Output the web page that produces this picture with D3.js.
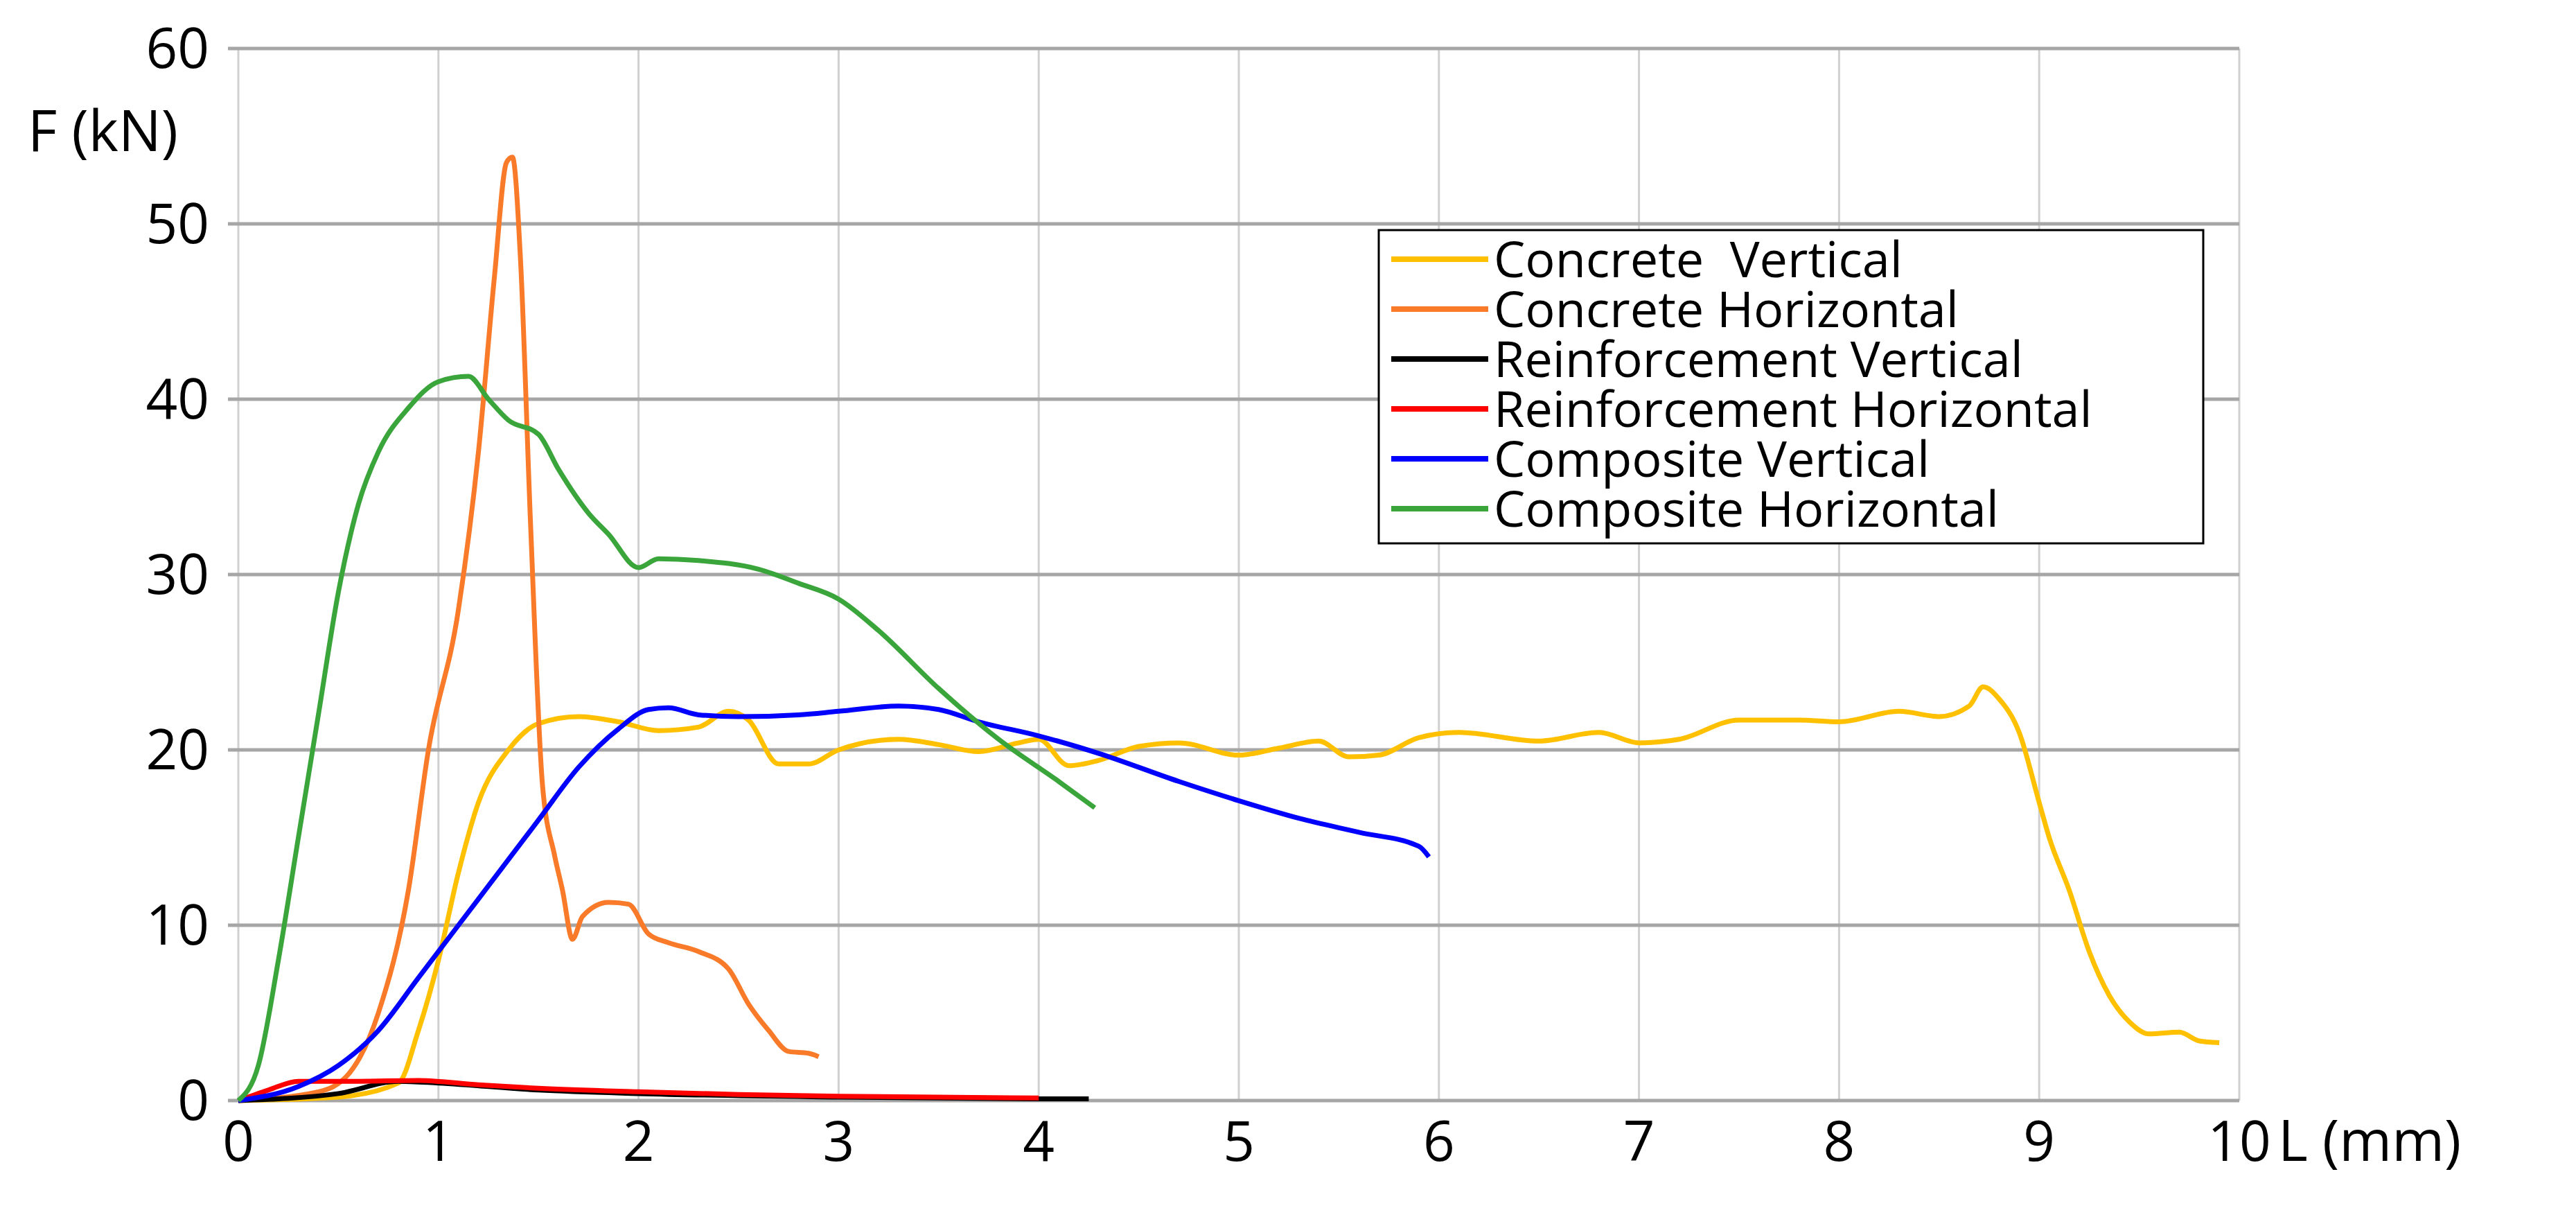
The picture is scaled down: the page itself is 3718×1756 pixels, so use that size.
<!DOCTYPE html>
<html><head><meta charset="utf-8">
<script src="https://cdn.jsdelivr.net/npm/d3@7"></script>
<style>body{margin:0;background:#fff}text{font-family:"Open Sans",sans-serif}</style>
</head><body><svg width="3718" height="1756"></svg>
<script>
// DATA
var seriesNames = ['Concrete  Vertical','Concrete Horizontal','Reinforcement Vertical','Reinforcement Horizontal','Composite Vertical','Composite Horizontal'];
var seriesColors = ['#ffc000','#f97b2a','#000000','#ff0000','#0000ff','#3aa53a'];
var concreteV = [[0,0],[0.5,0.2],[0.8,1],[0.9,4],[1.0,8],[1.1,13],[1.2,17],[1.35,20],[1.5,21.5],[1.7,21.9],[1.9,21.6],[2.1,21.1],[2.3,21.3],[2.45,22.2],[2.55,21.7],[2.7,19.2],[2.85,19.2],[3.0,20],[3.3,20.6],[3.5,20.3],[3.7,19.9],[3.9,20.4],[4.0,20.6],[4.15,19.1],[4.3,19.4],[4.5,20.2],[4.7,20.4],[5.0,19.7],[5.2,20.1],[5.4,20.5],[5.55,19.6],[5.7,19.7],[5.9,20.7],[6.1,21.0],[6.5,20.5],[6.8,21.0],[7.0,20.4],[7.2,20.6],[7.5,21.7],[7.8,21.7],[8.0,21.6],[8.3,22.2],[8.5,21.9],[8.65,22.5],[8.72,23.6],[8.8,22.9],[8.9,21],[9.0,17],[9.05,15],[9.15,12],[9.25,8.5],[9.35,6],[9.45,4.5],[9.55,3.8],[9.7,3.9],[9.8,3.4],[9.9,3.3]];
var concreteH = [[0,0],[0.4,0.5],[0.55,1.5],[0.7,5],[0.85,12],[0.95,20],[1.1,28],[1.2,37],[1.28,47],[1.34,53.5],[1.37,53.8],[1.41,48],[1.46,33],[1.52,18],[1.58,14],[1.62,12],[1.67,9.2],[1.72,10.5],[1.85,11.3],[1.95,11.2],[2.05,9.5],[2.15,9],[2.3,8.5],[2.45,7.5],[2.55,5.5],[2.65,4],[2.75,2.8],[2.85,2.7],[2.9,2.5]];
var reinfV = [[0,0],[0.5,0.4],[0.8,1.1],[1.0,1.0],[1.5,0.6],[2,0.4],[3,0.2],[4,0.1],[4.25,0.1]];
var reinfH = [[0,0],[0.15,0.6],[0.3,1.1],[0.6,1.1],[0.9,1.15],[1.2,0.9],[1.5,0.7],[2,0.5],[2.5,0.35],[3,0.25],[4,0.15]];
var compV = [[0,0],[0.3,0.8],[0.5,2],[0.7,4],[0.9,7],[1.1,10],[1.3,13],[1.5,16],[1.7,19],[1.9,21.2],[2.05,22.3],[2.15,22.4],[2.3,22],[2.5,21.9],[2.8,22.0],[3.0,22.2],[3.3,22.5],[3.5,22.3],[3.7,21.6],[4.0,20.8],[4.3,19.8],[4.7,18.2],[5.0,17.1],[5.3,16.1],[5.6,15.3],[5.9,14.5],[5.95,13.9]];
var compH = [[0,0],[0.1,2],[0.2,8],[0.3,15],[0.4,22],[0.5,29],[0.6,34],[0.7,37],[0.85,39.5],[1.0,41],[1.15,41.3],[1.25,40],[1.35,38.8],[1.5,38],[1.6,36],[1.75,33.5],[1.85,32.3],[2.0,30.4],[2.1,30.9],[2.3,30.8],[2.6,30.3],[2.8,29.5],[3.0,28.6],[3.2,26.8],[3.5,23.5],[3.8,20.6],[4.1,18.2],[4.28,16.7]];
var xTicks = [0,1,2,3,4,5,6,7,8,9,10];
var yTicks = [0,10,20,30,40,50,60];

var allSeries = [concreteV, concreteH, reinfV, reinfH, compV, compH];
var svg = d3.select('svg');
var x = d3.scaleLinear().domain([0,10]).range([344,3232]);
var y = d3.scaleLinear().domain([0,60]).range([1588,70]);

// grid
svg.append('g').selectAll('line').data(xTicks).enter().append('line')
  .attr('x1', d => x(d)).attr('x2', d => x(d)).attr('y1', y(60)).attr('y2', y(0))
  .attr('stroke', '#d0d0d0').attr('stroke-width', 3);
svg.append('g').selectAll('line').data(yTicks).enter().append('line')
  .attr('x1', x(0) - 15).attr('x2', x(10)).attr('y1', d => y(d)).attr('y2', d => y(d))
  .attr('stroke', '#a6a6a6').attr('stroke-width', 5);

// tick labels
svg.append('g').selectAll('text').data(yTicks).enter().append('text')
  .attr('x', 302).attr('y', d => y(d) + 28).attr('text-anchor', 'end')
  .attr('font-size', 80).text(d => d);
svg.append('g').selectAll('text').data(xTicks).enter().append('text')
  .attr('x', d => x(d)).attr('y', 1675).attr('text-anchor', 'middle')
  .attr('font-size', 80).text(d => d);
svg.append('text').attr('x', 40).attr('y', 218).attr('font-size', 82).text('F (kN)');
svg.append('text').attr('x', 3288).attr('y', 1675).attr('font-size', 82).text('L (mm)');

// lines
var line = d3.line().x(d => x(d[0])).y(d => y(d[1])).curve(d3.curveMonotoneX);
svg.append('g').selectAll('path').data(allSeries).enter().append('path')
  .attr('d', line).attr('fill', 'none')
  .attr('stroke', (d, i) => seriesColors[i]).attr('stroke-width', 7)
  .attr('stroke-linejoin', 'round');

// legend
var lg = svg.append('g');
lg.append('rect').attr('x', 1990).attr('y', 332).attr('width', 1190).attr('height', 452)
  .attr('fill', '#fff').attr('stroke', '#000').attr('stroke-width', 3);
seriesNames.forEach(function(n, i) {
  var yy = 374 + i * 72;
  lg.append('line').attr('x1', 2008).attr('x2', 2148).attr('y1', yy).attr('y2', yy)
    .attr('stroke', seriesColors[i]).attr('stroke-width', 8);
  lg.append('text').attr('x', 2156).attr('y', yy + 26).attr('font-size', 72)
    .attr('textLength', null)
    .attr('xml:space', 'preserve').text(n);
});
</script></body></html>
